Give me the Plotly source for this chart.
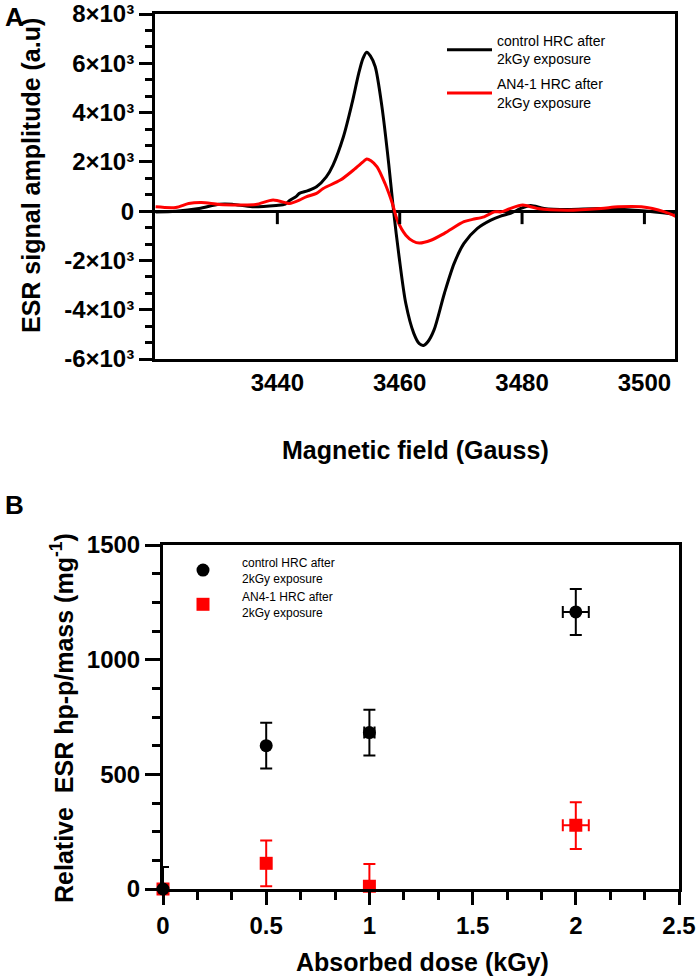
import plotly.graph_objects as go

# ---------------- Panel A data (ESR spectra) ----------------
field_control = [3420.1, 3423.4, 3427.2, 3430.5, 3432.6, 3435.9, 3439.8, 3441.3, 3442.0, 3443.1,
                 3443.6, 3445.0, 3446.4, 3448.0, 3449.1, 3450.8, 3452.2, 3453.3, 3454.0, 3454.6,
                 3455.2, 3456.0, 3457.1, 3458.2, 3459.0, 3459.9, 3461.0, 3462.3, 3463.2, 3463.9,
                 3464.6, 3465.6, 3467.3, 3468.9, 3470.5, 3472.7, 3474.9, 3476.5, 3478.2, 3479.8,
                 3481.4, 3483.6, 3487.5, 3492.9, 3498.4, 3504.0, 3505.3]
amp_control = [-30, 0, 110, 280, 280, 175, 230, 280, 430, 600,
               720, 830, 990, 1390, 1870, 3020, 4370, 5590, 6200, 6450,
               6300, 5860, 4230, 1930, 0, -1850, -3750, -4960, -5380, -5450,
               -5300, -4830, -3340, -2120, -1310, -700, -365, -200, -80, 110,
               230, 110, 70, 110, 40, -95, -160]

field_an41 = [3420.1, 3423.4, 3425.5, 3427.6, 3430.5, 3433.8, 3436.5, 3439.3, 3441.5, 3442.0,
              3443.6, 3444.7, 3446.4, 3447.5, 3450.3, 3452.4, 3454.0, 3454.6, 3455.3, 3456.3,
              3457.6, 3458.8, 3459.6, 3461.0, 3462.2, 3463.2, 3465.1, 3467.3, 3470.5, 3471.9,
              3473.8, 3475.5, 3476.6, 3478.0, 3480.1, 3482.5, 3487.4, 3492.9, 3495.7, 3499.5,
              3503.3, 3505.3]
amp_an41 = [175, 150, 310, 350, 270, 250, 270, 450, 330, 310,
            450, 580, 720, 920, 1260, 1660, 2000, 2120, 2050, 1800,
            1120, 310, -365, -975, -1220, -1290, -1180, -900, -430, -335,
            -230, -30, -30, 100, 245, 110, 40, 110, 175, 175,
            -30, -230]

a_xtick_vals = [3440, 3460, 3480, 3500]
a_ytick_vals = [-6000, -4000, -2000, 0, 2000, 4000, 6000, 8000]
a_ytick_text = ["-6×10³", "-4×10³", "-2×10³", "0", "2×10³", "4×10³", "6×10³", "8×10³"]

# ---------------- Panel B data (dose response) ----------------
dose = [0, 0.5, 1.0, 2.0]
control_mean = [0, 625, 682, 1208]
control_err_plus = [96, 100, 100, 100]
control_err_minus = [0, 100, 100, 100]
control_dose_err = [0, 0, 0.025, 0.063]
an41_mean = [0, 112, 12, 278]
an41_err_plus = [0, 100, 97, 100]
an41_err_minus = [0, 100, 12, 104]
an41_dose_err = [0, 0, 0, 0.063]

b_xtick_vals = [0, 0.5, 1, 1.5, 2, 2.5]
b_xtick_text = ["0", "0.5", "1", "1.5", "2", "2.5"]
b_ytick_vals = [0, 500, 1000, 1500]

name_control = "control HRC after<br>2kGy exposure"
name_an41 = "AN4-1 HRC after<br>2kGy exposure"

FONT = "Liberation Sans, Arial, sans-serif"
W, H = 700, 977
RED = "#ff0000"


def px(x):
    return x / W


def py(y):
    return 1 - y / H


fig = go.Figure()

# Panel A traces
fig.add_trace(go.Scatter(x=field_control, y=amp_control, mode="lines", name=name_control,
                         line=dict(color="black", width=3, shape="spline", smoothing=0.8),
                         xaxis="x", yaxis="y", legend="legend", legendrank=1, legendgroup="a1"))
fig.add_trace(go.Scatter(x=field_an41, y=amp_an41, mode="lines", name=name_an41,
                         line=dict(color=RED, width=3, shape="spline", smoothing=0.8),
                         xaxis="x", yaxis="y", legend="legend", legendrank=2, legendgroup="a2"))

# Panel B traces (red first so black circle sits on top at origin)
fig.add_trace(go.Scatter(x=dose, y=an41_mean, mode="markers", name=name_an41,
                         marker=dict(symbol="square", size=13, color=RED),
                         error_y=dict(type="data", symmetric=False, array=an41_err_plus,
                                      arrayminus=an41_err_minus, color=RED, thickness=2, width=6),
                         error_x=dict(type="data", array=an41_dose_err, color=RED, thickness=2, width=6),
                         cliponaxis=False, xaxis="x2", yaxis="y2", legend="legend2", legendrank=2))
fig.add_trace(go.Scatter(x=dose, y=control_mean, mode="markers", name=name_control,
                         marker=dict(symbol="circle", size=13, color="black"),
                         error_y=dict(type="data", symmetric=False, array=control_err_plus,
                                      arrayminus=control_err_minus, color="black", thickness=2, width=6),
                         error_x=dict(type="data", array=control_dose_err, color="black", thickness=2, width=6),
                         cliponaxis=False, xaxis="x2", yaxis="y2", legend="legend2", legendrank=1))

tickfont = dict(family=FONT, size=24, color="black", weight="bold")

fig.update_layout(
    width=W, height=H, autosize=False,
    margin=dict(l=0, r=0, t=0, b=0, autoexpand=False),
    paper_bgcolor="white", plot_bgcolor="white",
    font=dict(family=FONT, color="black"),
    xaxis=dict(domain=[px(155), px(675)], range=[3420, 3505], anchor="y", automargin=False,
               tickmode="array", tickvals=a_xtick_vals, ticks="", ticklen=0, showgrid=False,
               showline=True, linewidth=3, linecolor="black", mirror=True,
               zeroline=False, tickfont=tickfont, ticklabelstandoff=0, ticklabeloverflow="allow"),
    yaxis=dict(domain=[py(359), py(14)], range=[-6000, 8000], anchor="x", automargin=False,
               tickmode="array", tickvals=a_ytick_vals, ticktext=a_ytick_text,
               ticks="outside", ticklen=13, tickwidth=3, tickcolor="black",
               minor=dict(tickmode="linear", tick0=0, dtick=2000 / 3, ticks="outside",
                          ticklen=7, tickwidth=3, tickcolor="black", showgrid=False),
               showgrid=False, showline=True, linewidth=3, linecolor="black", mirror=True,
               zeroline=True, zerolinewidth=3, zerolinecolor="black", tickfont=tickfont,
               ticklabeloverflow="allow"),
    xaxis2=dict(domain=[px(163), px(679)], range=[0, 2.5], anchor="y2", automargin=False,
                tickmode="array", tickvals=b_xtick_vals, ticktext=b_xtick_text,
                ticks="outside", ticklen=13, tickwidth=3, tickcolor="black",
                minor=dict(tickmode="linear", tick0=0, dtick=0.5 / 3, ticks="outside",
                           ticklen=8, tickwidth=3, tickcolor="black", showgrid=False),
                showgrid=False, showline=True, linewidth=3, linecolor="black", mirror=True,
                zeroline=False, tickfont=tickfont, ticklabeloverflow="allow"),
    yaxis2=dict(domain=[py(889), py(545)], range=[0, 1500], anchor="x2", automargin=False,
                tickmode="array", tickvals=b_ytick_vals,
                ticks="outside", ticklen=15, tickwidth=3, tickcolor="black",
                minor=dict(tickmode="linear", tick0=0, dtick=125, ticks="outside",
                           ticklen=8, tickwidth=3, tickcolor="black", showgrid=False),
                showgrid=False, showline=True, linewidth=3, linecolor="black", mirror=True,
                zeroline=False, tickfont=tickfont, ticklabeloverflow="allow"),
    legend=dict(x=px(442), y=py(25), xanchor="left", yanchor="top",
                bgcolor="rgba(0,0,0,0)", borderwidth=0, itemwidth=45, tracegroupgap=4,
                font=dict(family=FONT, size=14, color="black")),
    legend2=dict(x=px(164), y=py(548), xanchor="left", yanchor="top",
                 bgcolor="rgba(0,0,0,0)", borderwidth=0, itemwidth=68,
                 font=dict(family=FONT, size=12, color="black")),
    showlegend=True,
)

# tick marks on the zero line of panel A (GraphPad style axis crossing at y = 0)
for tv in a_xtick_vals:
    fig.add_shape(type="line", xref="x", yref="y", x0=tv, x1=tv,
                  ysizemode="pixel", yanchor=0, y0=0, y1=-13,
                  line=dict(color="black", width=3))

title_font = dict(family=FONT, size=25, color="black", weight="bold")
annots = [
    dict(text="A", x=px(3), y=py(17), xanchor="left", yanchor="middle",
         font=dict(family=FONT, size=26, color="black", weight="bold")),
    dict(text="B", x=px(3), y=py(505), xanchor="left", yanchor="middle",
         font=dict(family=FONT, size=26, color="black", weight="bold")),
    dict(text="ESR signal amplitude (a.u)", x=px(31), y=py(176), textangle=-90,
         xanchor="center", yanchor="middle", font=title_font),
    dict(text="Magnetic field (Gauss)", x=px(415), y=py(450),
         xanchor="center", yanchor="middle", font=title_font),
    dict(text="Relative  ESR hp-p/mass (mg<sup>-1</sup>)", x=px(62), y=py(718), textangle=-90,
         xanchor="center", yanchor="middle", font=title_font),
    dict(text="Absorbed dose (kGy)", x=px(422), y=py(962),
         xanchor="center", yanchor="middle", font=title_font),
]
for a in annots:
    fig.add_annotation(xref="paper", yref="paper", showarrow=False, **a)

fig.write_html("out.html", config={"displayModeBar": False},
               post_script="document.body.style.margin='0';document.body.style.overflow='hidden';")
